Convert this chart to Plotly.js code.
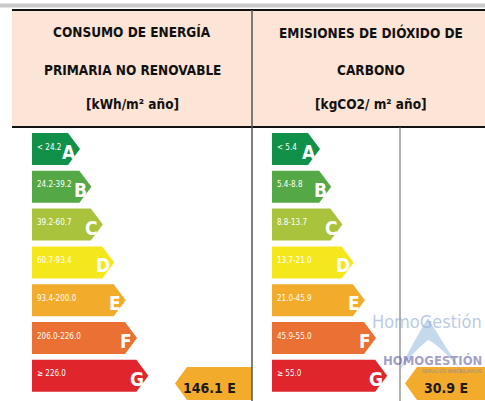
<!DOCTYPE html>
<html>
<head>
<meta charset="utf-8">
<script src="https://cdn.plot.ly/plotly-3.0.1.min.js"></script>
<style>html,body{margin:0;padding:0;background:#fff;}#chart{width:485px;height:401px;}</style>
</head>
<body>
<div id="chart"></div>
<script>
// ---- data ----
const grades = ["A", "B", "C", "D", "E", "F", "G"];
const gradeColors = ["#11904a", "#55a846", "#a9c43c", "#f4e81c", "#f3ab2c", "#ea7033", "#e0262c"];
const consumoRanges = ["< 24.2", "24.2-39.2", "39.2-60.7", "60.7-93.4", "93.4-200.0", "206.0-226.0", "≥ 226.0"];
const emisionesRanges = ["< 5.4", "5.4-8.8", "8.8-13.7", "13.7-21.0", "21.0-45.9", "45.9-55.0", "≥ 55.0"];
const consumoTitle = ["CONSUMO DE ENERGÍA", "PRIMARIA NO RENOVABLE", "[kWh/m² año]"];
const emisionesTitle = ["EMISIONES DE DIÓXIDO DE", "CARBONO", "[kgCO2/ m² año]"];
const consumoValue = 146.1, consumoGrade = "E";
const emisionesValue = 30.9, emisionesGrade = "E";

// ---- layout helpers ----
const FONT = "'Liberation Sans Narrow', 'DejaVu Sans Condensed', 'Roboto Condensed', 'Liberation Sans', Arial, sans-serif";
const rowTop = 133, rowPitch = 37.8, rowH = 32, tipDepth = 12;
const panels = [
  {x0: 32, tip0: 80, step: 11.4, ranges: consumoRanges, title: consumoTitle, cx: 132,
   value: consumoValue, grade: consumoGrade, rx0: 175, rx1: 252, rtx: 209},
  {x0: 272, tip0: 320, step: 11.2, ranges: emisionesRanges, title: emisionesTitle, cx: 371,
   value: emisionesValue, grade: emisionesGrade, rx0: 405, rx1: 490, rtx: 446}
];

const traces = [];
const annotations = [];
const shapes = [
  {type: "rect", xref: "x", yref: "y", x0: 0, x1: 485, y0: 3.5, y1: 7.5, fillcolor: "#c9c9c9", line: {width: 0}, layer: "below"},
  {type: "rect", xref: "x", yref: "y", x0: 12, x1: 485, y0: 10, y1: 127, fillcolor: "#fce4d6", line: {width: 0}, layer: "below"},
  {type: "line", xref: "x", yref: "y", x0: 12, x1: 485, y0: 10, y1: 10, line: {color: "#111", width: 2}},
  {type: "line", xref: "x", yref: "y", x0: 12, x1: 485, y0: 127, y1: 127, line: {color: "#111", width: 2}},
  {type: "line", xref: "x", yref: "y", x0: 252, x1: 252, y0: 10, y1: 401, line: {color: "#555", width: 1.5}},
  {type: "line", xref: "x", yref: "y", x0: 400, x1: 400, y0: 127, y1: 401, line: {color: "#666", width: 1}}
];

// watermark (drawn first so the chart texts sit on top)
shapes.push({type: "path", xref: "x", yref: "y",
  path: "M 398 372 Q 420 330 428 318 Q 438 335 462 372 Q 440 345 428 340 Q 415 350 398 372 Z",
  fillcolor: "rgba(110,160,210,0.4)", line: {width: 0}});
annotations.push({x: 484, y: 321, xref: "x", yref: "y", text: "HomoGestión", showarrow: false,
  xanchor: "right", yanchor: "middle", font: {family: FONT, size: 18, color: "rgba(140,165,210,0.6)"}});
annotations.push({x: 484, y: 360, xref: "x", yref: "y", text: "<b>HOMOGESTIÓN</b>", showarrow: false,
  xanchor: "right", yanchor: "middle", font: {family: FONT, size: 13, color: "rgba(85,75,150,0.55)"}});
annotations.push({x: 484, y: 371, xref: "x", yref: "y", text: "SERVICIOS INMOBILIARIOS", showarrow: false,
  xanchor: "right", yanchor: "middle", font: {family: FONT, size: 5, color: "rgba(90,130,190,0.7)"}});

panels.forEach(p => {
  // header
  const ty = [32, 70, 104];
  p.title.forEach((t, k) => annotations.push({
    x: p.cx, y: ty[k], xref: "x", yref: "y", text: "<b>" + t + "</b>", showarrow: false,
    font: {family: FONT, size: 13.5, color: "#111"}, xanchor: "center", yanchor: "middle"
  }));
  // scale arrows
  grades.forEach((g, i) => {
    const top = rowTop + i * rowPitch, bot = top + rowH, mid = (top + bot) / 2;
    const tip = p.tip0 + i * p.step, body = tip - tipDepth;
    traces.push({
      type: "scatter", mode: "lines", fill: "toself", fillcolor: gradeColors[i],
      line: {width: 0, color: gradeColors[i]}, hoverinfo: "skip", showlegend: false,
      x: [p.x0, body, tip, body, p.x0, p.x0], y: [top, top, mid, bot, bot, top]
    });
    annotations.push({
      x: p.x0 + 3, y: mid - 2, xref: "x", yref: "y", text: p.ranges[i], showarrow: false,
      xanchor: "left", yanchor: "middle", font: {family: FONT, size: 8, color: "#fff"}
    });
    annotations.push({
      x: body + 1, y: mid + 3, xref: "x", yref: "y", text: "<b>" + g + "</b>", showarrow: false,
      xanchor: "center", yanchor: "middle", font: {family: FONT, size: 19, color: "#fff"}
    });
  });
  // result arrow (points left)
  const gi = grades.indexOf(p.grade);
  const rt = 367, rb = 400, rm = (rt + rb) / 2;
  traces.push({
    type: "scatter", mode: "lines", fill: "toself", fillcolor: gradeColors[gi],
    line: {width: 0, color: gradeColors[gi]}, hoverinfo: "skip", showlegend: false,
    x: [p.rx1, p.rx0 + 12, p.rx0, p.rx0 + 12, p.rx1, p.rx1], y: [rt, rt, rm, rb, rb, rt]
  });
  annotations.push({
    x: p.rtx, y: 388, xref: "x", yref: "y", text: "<b>" + p.value.toFixed(1) + " " + p.grade + "</b>",
    showarrow: false, xanchor: "center", yanchor: "middle", font: {family: FONT, size: 14, color: "#1a1a1a"}
  });
});

const layout = {
  width: 485, height: 401, margin: {l: 0, r: 0, t: 0, b: 0},
  paper_bgcolor: "#fff", plot_bgcolor: "#fff", showlegend: false,
  xaxis: {range: [0, 485], visible: false, fixedrange: true},
  yaxis: {range: [401, 0], visible: false, fixedrange: true},
  shapes: shapes, annotations: annotations
};
Plotly.newPlot("chart", traces, layout, {staticPlot: true, displayModeBar: false});
</script>
</body>
</html>
